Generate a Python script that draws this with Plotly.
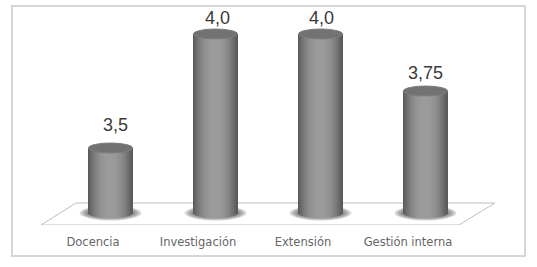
import numpy as np
import plotly.graph_objects as go

categories = ["Docencia", "Investigación", "Extensión", "Gestión interna"]
values = [3.5, 4.0, 4.0, 3.75]
value_labels = ["3,5", "4,0", "4,0", "3,75"]

W, H = 537, 267
L, R, T, B = 12, 525, 6, 225
PX_X = 105.0
PX_Y = 228.0
x_min = (L - 110.5) / PX_X
x_max = (R - 110.5) / PX_X
base = 3.215
y_min = base - (B - 213) / PX_Y
y_max = 4.0 + (34 - T) / PX_Y

positions = list(range(len(categories)))
half_w = 22 / PX_X
ry = 5 / PX_Y
N = 44
fig = go.Figure()

edges = np.linspace(-1, 1, N + 1)
for a, b in zip(edges[:-1], edges[1:]):
    t = (a + b) / 2
    shade = int(88 + 68 * (1 - abs(t) ** 2.2))
    dip = ry * np.sqrt(max(0, 1 - t * t))
    fig.add_trace(go.Bar(
        x=positions,
        y=[v - base + dip for v in values],
        base=[base - dip] * len(values),
        offset=a * half_w,
        width=(b - a) * half_w * 1.25,
        marker=dict(color=f"rgb({shade},{shade},{shade})", line_width=0),
        showlegend=False, hoverinfo="skip",
    ))

label_lift_px = [22, 15, 15, 17]
label_shift_px = [5, 2, 1, 0]
fig.add_trace(go.Scatter(
    x=[p + s / PX_X for p, s in zip(positions, label_shift_px)],
    y=[v + d / PX_Y for v, d in zip(values, label_lift_px)],
    text=value_labels,
    mode="text",
    textposition="middle center",
    textfont=dict(family="Liberation Sans", size=18, color="#3a3a3a"),
    cliponaxis=False,
    showlegend=False, hoverinfo="skip",
))

shapes = []
# outer frame
shapes.append(dict(type="rect", xref="paper", yref="paper", x0=0, x1=1, y0=-(256 - B) / (B - T), y1=1,
                   line=dict(color="#d6d6d6", width=2), layer="below"))
# floor
X = lambda px: (px - 110.5) / PX_X
Y = lambda py: base - (py - 213) / PX_Y
floor = [(41, 225), (76, 203), (495, 203), (459, 225)]
path = "M " + " L ".join(f"{X(a):.4f},{Y(c):.4f}" for a, c in floor) + " Z"
shapes.append(dict(type="path", path=path, xref="x", yref="y",
                   line=dict(color="#bdbdbd", width=1), fillcolor="white", layer="below"))
# soft shadows and cylinder tops
for p, v in zip(positions, values):
    for k in range(6):
        rx = (31 - k * 2.2) / PX_X
        rs = (7.5 - k * 0.8) / PX_Y
        shapes.append(dict(type="circle", xref="x", yref="y",
                           x0=p - rx, x1=p + rx, y0=base - rs, y1=base + rs,
                           fillcolor="rgba(70,70,70,0.2)", line_width=0, layer="below"))
    shapes.append(dict(type="circle", xref="x", yref="y",
                       x0=p - half_w, x1=p + half_w, y0=v - ry, y1=v + ry,
                       fillcolor="#727272", line=dict(color="#7c7c7c", width=1), layer="above"))
fig.update_layout(shapes=shapes)

fig.update_layout(
    width=W, height=H,
    margin=dict(l=L, r=W - R, t=T, b=H - B, pad=0),
    paper_bgcolor="white", plot_bgcolor="white",
    barmode="overlay",
    xaxis=dict(range=[x_min, x_max], tickmode="array",
               tickvals=[p - 17.5 / PX_X for p in positions], ticktext=categories,
               showgrid=False, zeroline=False, showline=False, ticks="", ticklen=0,
               ticklabelstandoff=8,
               tickfont=dict(family="DejaVu Sans", size=11.5, color="#666666")),
    yaxis=dict(range=[y_min, y_max], visible=False),
)
fig.write_html("out.html", config={"displayModeBar": False},
               post_script="document.body.style.margin='0';")
